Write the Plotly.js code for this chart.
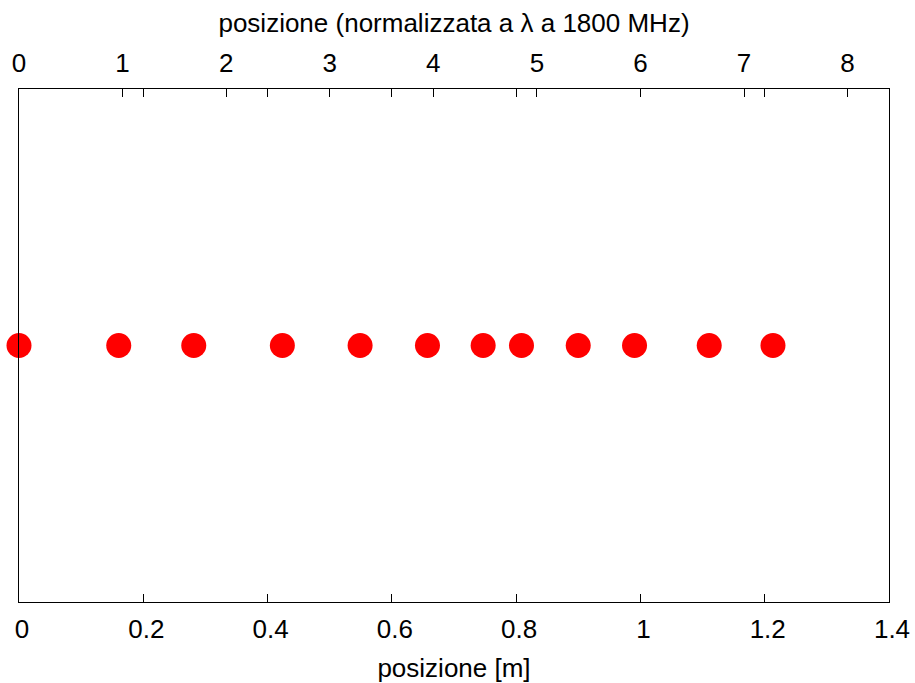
<!DOCTYPE html>
<html>
<head>
<meta charset="utf-8">
<script src="https://cdn.plot.ly/plotly-3.0.1.min.js"></script>
<style>html,body{margin:0;padding:0;background:#fff;}#chart{width:915px;height:683px;}</style>
</head>
<body>
<div id="chart"></div>
<script>
// positions of the measurement points [m]
const positions = [0, 0.1605, 0.2812, 0.4238, 0.5489, 0.6573, 0.7469, 0.8086, 0.8999, 0.9905, 1.1107, 1.2133];
const yValues = [0, 0, 0, 0, 0, 0, 0, 0, 0, 0, 0, 0];
const wavelength = 0.3 / 1.8; // lambda at 1800 MHz [m]
const bottomTicks = [0, 0.2, 0.4, 0.6, 0.8, 1, 1.2, 1.4];
const bottomTickText = ["0", "0.2", "0.4", "0.6", "0.8", "1", "1.2", "1.4"];
const topTicks = [0, 1, 2, 3, 4, 5, 6, 7, 8];

const FONT = "Liberation Sans, Arial, sans-serif";
const FS = 26;

const traces = [
  {
    x: positions, y: yValues, type: "scatter", mode: "markers",
    marker: {color: "#ff0000", size: 25},
    cliponaxis: false, showlegend: false, hoverinfo: "x"
  },
  {
    x: positions.map(p => p / wavelength), y: yValues, xaxis: "x2", type: "scatter", mode: "markers",
    marker: {opacity: 0, size: 1}, showlegend: false, hoverinfo: "skip"
  }
];

const layout = {
  width: 915, height: 683,
  margin: {l: 19, r: 26, t: 89, b: 81, pad: 0},
  paper_bgcolor: "#fff", plot_bgcolor: "#fff",
  font: {family: FONT, size: FS, color: "#000"},
  showlegend: false,
  xaxis: {
    range: [0, 1.4], tickvals: bottomTicks, ticktext: bottomTickText,
    ticks: "inside", ticklen: 8, tickwidth: 1, tickcolor: "#000",
    showline: true, linecolor: "#000", linewidth: 1, mirror: "ticks",
    showgrid: false, zeroline: false, layer: "above traces",
    ticklabelstandoff: 4, ticklabelshift: 3,
    tickfont: {family: FONT, size: FS, color: "#000"},
    title: {text: "posizione [m]", font: {family: FONT, size: FS, color: "#000"}, standoff: 16},
    automargin: false
  },
  xaxis2: {
    overlaying: "x", side: "top", anchor: "y",
    range: [0, 1.4 / wavelength], tickvals: topTicks,
    ticks: "inside", ticklen: 8, tickwidth: 1, tickcolor: "#000",
    showline: false, showgrid: false, zeroline: false, layer: "above traces",
    ticklabelstandoff: 11,
    tickfont: {family: FONT, size: FS, color: "#000"},
    title: {text: "posizione (normalizzata a λ a 1800 MHz)", font: {family: FONT, size: FS, color: "#000"}, standoff: 7},
    automargin: false
  },
  yaxis: {
    range: [-1, 1], showticklabels: false, ticks: "",
    showline: true, linecolor: "#000", linewidth: 1, mirror: true,
    showgrid: false, zeroline: false, layer: "above traces", automargin: false
  }
};

Plotly.newPlot("chart", traces, layout, {displayModeBar: false, staticPlot: true});
</script>
</body>
</html>
